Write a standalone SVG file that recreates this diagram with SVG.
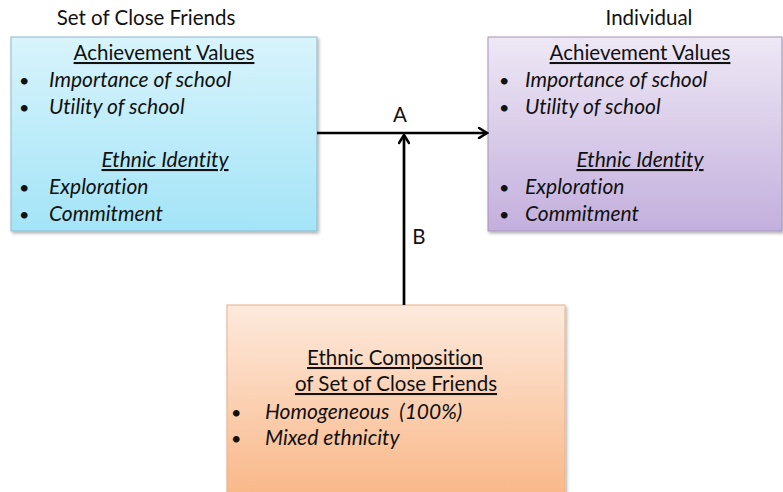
<svg xmlns="http://www.w3.org/2000/svg" width="783" height="492" viewBox="0 0 783 492">
<defs>
<linearGradient id="gBlue" x1="0" y1="0" x2="0" y2="1">
<stop offset="0" stop-color="#d8f4fc"/>
<stop offset="1" stop-color="#a3e4f7"/>
</linearGradient>
<linearGradient id="gPurple" x1="0" y1="0" x2="0" y2="1">
<stop offset="0" stop-color="#eee8f5"/>
<stop offset="1" stop-color="#c3afdd"/>
</linearGradient>
<linearGradient id="gOrange" x1="0" y1="0" x2="0" y2="1">
<stop offset="0" stop-color="#fdeadd"/>
<stop offset="1" stop-color="#f9b584"/>
</linearGradient>
<filter id="sh" x="-5%" y="-5%" width="112%" height="115%">
<feDropShadow dx="1.5" dy="2" stdDeviation="1.5" flood-color="#000" flood-opacity="0.3"/>
</filter>
<marker id="arr" viewBox="0 0 12 12" refX="10" refY="6" markerWidth="12" markerHeight="12" markerUnits="userSpaceOnUse" orient="auto">
<path d="M2,1 L10,6 L2,11" fill="none" stroke="#000" stroke-width="2.5" stroke-linecap="round" stroke-linejoin="miter"/>
</marker>
</defs>
<style>
text{font-family:Lato,"Open Sans","Liberation Sans",sans-serif;font-size:20.5px;fill:#111;font-variant-ligatures:none}
.h{text-anchor:middle;text-decoration:underline}
.i{font-style:italic;font-size:21px}
.t{text-anchor:middle}
.b{font-size:18px}
.conn{stroke:#000;stroke-width:2.7;fill:none}
</style>
<rect width="783" height="492" fill="#fff"/>
<g id="friends">
<text class="t" x="146" y="25">Set of Close Friends</text>
<rect x="11" y="37" width="306" height="194" fill="url(#gBlue)" stroke="#8fb8cc" stroke-width="1" filter="url(#sh)"/>
<text class="h" x="164" y="60">Achievement Values</text>
<text class="b" x="19" y="87">•</text><text class="i" x="49" y="87">Importance of school</text>
<text class="b" x="19" y="114">•</text><text class="i" x="49" y="114">Utility of school</text>
<text class="h i" x="165" y="167">Ethnic Identity</text>
<text class="b" x="19" y="194">•</text><text class="i" x="49" y="194">Exploration</text>
<text class="b" x="19" y="221">•</text><text class="i" x="49" y="221">Commitment</text>
</g>
<g id="individual">
<text class="t" x="649" y="25">Individual</text>
<rect x="488" y="37" width="294" height="194" fill="url(#gPurple)" stroke="#a594b8" stroke-width="1" filter="url(#sh)"/>
<text class="h" x="640" y="60">Achievement Values</text>
<text class="b" x="499" y="87">•</text><text class="i" x="525" y="87">Importance of school</text>
<text class="b" x="499" y="114">•</text><text class="i" x="525" y="114">Utility of school</text>
<text class="h i" x="640" y="167">Ethnic Identity</text>
<text class="b" x="499" y="194">•</text><text class="i" x="525" y="194">Exploration</text>
<text class="b" x="499" y="221">•</text><text class="i" x="525" y="221">Commitment</text>
</g>
<g id="composition">
<rect x="227" y="305" width="338" height="200" fill="url(#gOrange)" stroke="#e8b28c" stroke-width="1" filter="url(#sh)"/>
<text class="h" x="395" y="365">Ethnic Composition</text>
<text class="h" x="396" y="391">of Set of Close Friends</text>
<text class="b" x="231" y="419">•</text><text class="i" x="265" y="419" xml:space="preserve">Homogeneous  (100%)</text>
<text class="b" x="231" y="445">•</text><text class="i" x="265" y="445">Mixed ethnicity</text>
</g>
<g id="connectors">
<line class="conn" x1="317" y1="133" x2="487" y2="133" marker-end="url(#arr)"/>
<line class="conn" x1="404" y1="305" x2="404" y2="135" marker-end="url(#arr)"/>
<text class="t" x="400" y="122">A</text>
<text class="t" x="419" y="244">B</text>
</g>
</svg>
